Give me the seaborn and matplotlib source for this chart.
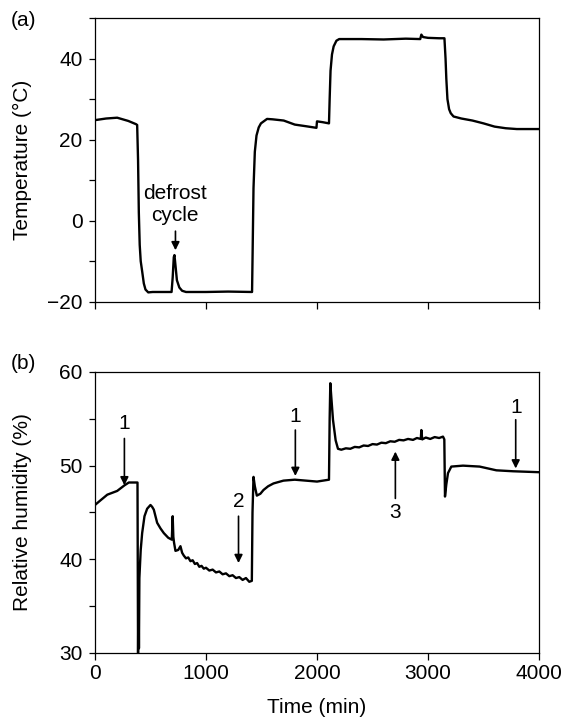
import numpy as np
import pandas as pd
import seaborn as sns
import matplotlib.pyplot as plt
from matplotlib.ticker import MultipleLocator

# panel (a): chamber temperature
temp_time = [0, 100, 200, 300, 370, 380, 388, 395, 403, 412, 425, 440, 455, 480, 520, 600, 690,
             700, 710, 716, 725, 738, 760, 785, 820, 1000, 1200, 1415,
             1420, 1428, 1440, 1455, 1475, 1495, 1550, 1600, 1700, 1800, 1900, 1995,
             2000, 2050, 2108, 2114, 2122, 2135, 2150, 2175, 2200, 2400, 2600, 2800, 2930,
             2940, 2955, 3000, 3100, 3148, 3158, 3165, 3175, 3190, 3205, 3230, 3300, 3400,
             3500, 3600, 3700, 3800, 4000]
temp_vals = [24.8, 25.2, 25.4, 24.6, 23.8, 23.6, 15, 2, -6, -10, -12.5, -15.5, -17, -17.7, -17.6, -17.6, -17.6,
             -14, -9, -8.5, -11, -14.7, -16.5, -17.3, -17.6, -17.6, -17.5, -17.6,
             -8, 8, 17, 21, 23, 24, 25.1, 25.0, 24.7, 23.7, 23.3, 22.9,
             24.5, 24.3, 24.0, 30, 37, 41, 43, 44.4, 44.8, 44.8, 44.7, 44.9, 44.8,
             45.9, 45.3, 45.1, 45.0, 45.0, 40, 35, 30, 27.5, 26.5, 25.7, 25.2, 24.7,
             24.0, 23.2, 22.8, 22.6, 22.6]

# panel (b): relative humidity
rh_time = [0, 50, 111, 200, 266, 305, 383, 388, 392, 396, 400, 412, 425, 446, 470, 500, 515, 530,
           545, 560, 590, 620, 660, 692, 700, 706, 712, 725, 750, 770, 785,
           800, 820, 840, 860, 880, 900, 920, 940, 960, 980, 1000, 1030, 1060, 1090, 1120,
           1150, 1180, 1210, 1240, 1270, 1300, 1330, 1360, 1390, 1413,
           1419, 1428, 1440, 1458, 1490, 1518, 1560, 1608, 1698, 1800, 1900, 2000, 2108,
           2114, 2120, 2129, 2144, 2168, 2189,
           2219, 2260, 2300, 2340, 2380, 2420, 2460, 2500, 2540, 2580, 2620, 2660, 2700,
           2740, 2780, 2820, 2865, 2900, 2935, 2940, 2948, 2980, 3020, 3060, 3100, 3135,
           3147, 3153, 3165, 3180, 3210, 3315, 3465, 3616, 3766, 4000]
rh_vals = [45.8, 46.3, 46.9, 47.3, 47.9, 48.2, 48.2, 30, 37.5, 30.5, 38, 41, 42.8, 44.6, 45.4, 45.8, 45.6, 45.3,
           44.6, 43.9, 43.3, 42.8, 42.3, 42.1, 44.6, 42.4, 41.8, 40.9, 41.0, 41.4, 40.7,
           40.4, 40.1, 40.2, 39.8, 39.9, 39.5, 39.6, 39.2, 39.3, 39.0, 39.1, 38.8, 38.9, 38.6, 38.7,
           38.4, 38.5, 38.2, 38.3, 38.0, 38.1, 37.8, 38.0, 37.6, 37.7,
           45, 48.8, 47.8, 46.8, 47.0, 47.4, 47.8, 48.1, 48.4, 48.5, 48.4, 48.3, 48.5,
           55, 58.8, 57.3, 54.9, 52.7, 51.8,
           51.7, 51.85, 51.8, 52.0, 51.95, 52.15, 52.1, 52.3, 52.25, 52.45, 52.4, 52.6, 52.55,
           52.75, 52.7, 52.85, 52.75, 52.95, 52.85, 53.8, 52.8, 53.0, 52.85, 53.05, 52.95, 53.1,
           52.8, 46.7, 48.0, 49.2, 49.9, 50.0, 49.9, 49.5, 49.4, 49.3]

# arrow labels in (b): label, time, text y, arrow tail y, arrow head y
rh_marks = [('1', 265, 54.5, 52.9, 47.9),
            ('1', 1805, 55.2, 53.8, 48.9),
            ('2', 1293, 46.2, 44.6, 39.6),
            ('3', 2706, 45.0, 46.5, 51.5),
            ('1', 3790, 56.2, 54.9, 49.7)]

sns.set_style('ticks')
plt.rcParams['font.family'] = ['Liberation Sans', 'DejaVu Sans']
plt.rcParams['font.size'] = 15
for key in ['text.color', 'axes.labelcolor', 'xtick.color', 'ytick.color']:
    plt.rcParams[key] = 'black'

fig = plt.figure(figsize=(5.64, 7.17), dpi=100)
ax1 = fig.add_axes([0.1684, 0.5792, 0.7873, 0.3957])
ax2 = fig.add_axes([0.1684, 0.0893, 0.7873, 0.3919])

df_t = pd.DataFrame({'time': temp_time, 'temp': temp_vals})
df_h = pd.DataFrame({'time': rh_time, 'rh': rh_vals})

sns.lineplot(data=df_t, x='time', y='temp', ax=ax1, color='black', lw=1.7,
             estimator=None, sort=False)
sns.lineplot(data=df_h, x='time', y='rh', ax=ax2, color='black', lw=1.7,
             estimator=None, sort=False)

arrow = dict(arrowstyle='-|>', color='black', lw=1.2, mutation_scale=12, shrinkA=0, shrinkB=0)

ax1.text(723, 3.9, 'defrost\ncycle', ha='center', va='center', linespacing=1.2)
ax1.annotate('', xy=(725, -7.3), xytext=(725, -2.6), arrowprops=arrow)

for lab, t, ty, y0, y1 in rh_marks:
    ax2.text(t, ty, lab, ha='center', va='center')
    ax2.annotate('', xy=(t, y1), xytext=(t, y0), arrowprops=arrow)

ax1.set_xlim(0, 4000)
ax1.set_ylim(-20, 50)
ax1.set_yticks([-20, 0, 20, 40])
ax1.yaxis.set_minor_locator(MultipleLocator(10))
ax1.set_xticks([0, 1000, 2000, 3000, 4000])
ax1.set_xticklabels([])
ax1.set_xlabel('')
ax1.set_ylabel('Temperature (\u00b0C)')

ax2.set_xlim(0, 4000)
ax2.set_ylim(30, 60)
ax2.set_yticks([30, 40, 50, 60])
ax2.yaxis.set_minor_locator(MultipleLocator(5))
ax2.set_xticks([0, 1000, 2000, 3000, 4000])
ax2.set_xlabel('Time (min)')
ax2.set_ylabel('Relative humidity (%)')

for ax in (ax1, ax2):
    for s in ax.spines.values():
        s.set_visible(True)
        s.set_linewidth(0.9)
        s.set_color('black')
    ax.tick_params(axis='x', which='major', direction='out', length=5, width=0.9, pad=3)
    ax.tick_params(axis='y', which='both', direction='out', length=4, width=0.9, pad=5)
    ax.yaxis.set_label_coords(-0.142, 0.5)

ax2.xaxis.set_label_coords(0.5, -0.162)

fig.text(23 / 564, 1 - 20 / 717, '(a)', ha='center', va='center')
fig.text(23 / 564, 1 - 363 / 717, '(b)', ha='center', va='center')

fig.savefig('out.png', dpi=100)
